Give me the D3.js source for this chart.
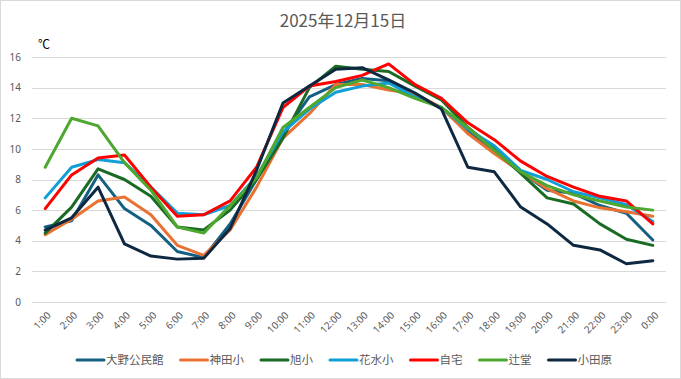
<!DOCTYPE html>
<html>
<head>
<meta charset="utf-8">
<script src="https://cdn.jsdelivr.net/npm/d3@7"></script>
<style>
  body { margin: 0; background: #fff; }
  svg { display: block; font-family: "Noto Sans CJK JP", "Noto Sans", sans-serif; }
</style>
</head>
<body>
<svg id="chart" width="681" height="379"></svg>
<script>
// 時刻
var hours = ["1:00","2:00","3:00","4:00","5:00","6:00","7:00","8:00","9:00","10:00","11:00","12:00",
  "13:00","14:00","15:00","16:00","17:00","18:00","19:00","20:00","21:00","22:00","23:00","0:00"];
var yTicks = [0, 2, 4, 6, 8, 10, 12, 14, 16];

// 各地点の気温 (℃)
var oono   = [4.9,5.3,8.3,6.1,5.0,3.3,2.9,5.1,8.0,11.0,13.4,14.2,14.6,14.45,13.5,12.7,11.1,9.8,8.5,7.3,7.1,6.3,5.8,4.05];
var kanda  = [4.4,5.4,6.6,6.85,5.7,3.7,3.05,4.7,7.5,10.7,12.3,14.2,14.2,13.85,13.6,12.7,11.0,9.7,8.5,7.4,6.6,6.15,5.9,5.6];
var asahi  = [4.5,6.2,8.7,8.0,6.9,4.9,4.7,6.0,8.0,10.7,14.0,15.4,15.2,15.05,14.1,13.2,11.4,10.0,8.4,6.8,6.4,5.1,4.1,3.7];
var hanamizu = [6.8,8.8,9.3,9.1,7.5,5.8,5.7,6.3,8.2,11.1,12.6,13.7,14.1,14.3,13.4,12.7,11.3,10.2,8.6,8.0,7.2,6.8,6.35,5.25];
var jitaku = [6.1,8.3,9.4,9.6,7.5,5.6,5.7,6.6,8.8,12.7,14.1,14.4,14.8,15.55,14.2,13.3,11.7,10.6,9.2,8.2,7.5,6.9,6.6,5.1];
var tsujido = [8.8,12.0,11.5,9.1,7.3,4.9,4.5,6.3,8.1,11.4,12.7,14.0,14.5,14.0,13.3,12.7,11.4,9.9,8.5,7.6,7.0,6.6,6.2,6.0];
var odawara = [4.7,5.5,7.5,3.8,3.0,2.8,2.85,4.8,8.6,13.0,14.1,15.2,15.3,14.5,13.65,12.6,8.8,8.5,6.2,5.1,3.7,3.4,2.5,2.7];

var names = ["大野公民館", "神田小", "旭小", "花水小", "自宅", "辻堂", "小田原"];
var colors = ["#156082", "#E97132", "#196B24", "#0F9ED5", "#FF0000", "#4EA72E", "#0E2841"];

var series = [oono, kanda, asahi, hanamizu, jitaku, tsujido, odawara].map(function (vals, i) {
  return {name: names[i], color: colors[i], values: vals};
});

var svg = d3.select("#chart"),
    width = +svg.attr("width"),
    height = +svg.attr("height");

var plotL = 32, plotR = 666, plotT = 57, plotB = 302;

svg.append("rect")
  .attr("x", 0.5).attr("y", 0.5)
  .attr("width", width - 1).attr("height", height - 1)
  .attr("fill", "#fff").attr("stroke", "#D9D9D9");

var x = d3.scalePoint().domain(hours).range([plotL, plotR]).padding(0.5);
var y = d3.scaleLinear().domain([0, 16]).range([plotB, plotT]);

// title
svg.append("text")
  .attr("x", 343).attr("y", 27)
  .attr("text-anchor", "middle")
  .attr("font-size", 17)
  .attr("fill", "#595959")
  .text("2025年12月15日");

svg.append("text")
  .attr("x", 38).attr("y", 49)
  .attr("font-size", 12)
  .attr("fill", "#000")
  .text("℃");

// grid
svg.append("g").selectAll("line")
  .data(yTicks)
  .enter().append("line")
  .attr("x1", plotL).attr("x2", plotR)
  .attr("y1", function (d) { return Math.round(y(d)) + 0.5; })
  .attr("y2", function (d) { return Math.round(y(d)) + 0.5; })
  .attr("stroke", "#D9D9D9");

// y axis labels
var yAxis = svg.append("g")
  .attr("transform", "translate(" + (plotL - 11) + ",0)")
  .call(d3.axisLeft(y).tickValues(yTicks).tickSize(0).tickPadding(0));
yAxis.select(".domain").remove();
yAxis.selectAll("text").attr("font-size", 10).attr("fill", "#595959")
  .attr("font-family", "'Noto Sans', sans-serif");

// x axis labels
var xAxis = svg.append("g")
  .attr("transform", "translate(0," + (plotB + 6) + ")")
  .call(d3.axisBottom(x).tickSize(0).tickPadding(0));
xAxis.select(".domain").remove();
xAxis.selectAll("text")
  .attr("font-size", 10).attr("fill", "#595959")
  .attr("font-family", "'Noto Sans', sans-serif")
  .attr("text-anchor", "end")
  .attr("dy", "0.7em")
  .attr("transform", "translate(1,3) rotate(-45)");

// lines
var line = d3.line()
  .x(function (d, i) { return x(hours[i]); })
  .y(function (d) { return y(d); });

svg.append("g").selectAll("path")
  .data(series)
  .enter().append("path")
  .attr("d", function (d) { return line(d.values); })
  .attr("fill", "none")
  .attr("stroke", function (d) { return d.color; })
  .attr("stroke-width", 3)
  .attr("stroke-linejoin", "round")
  .attr("stroke-linecap", "round");

// legend
var legend = svg.append("g").attr("transform", "translate(0,360)");
var lx = 76;
series.forEach(function (s) {
  var g = legend.append("g").attr("transform", "translate(" + lx + ",0)");
  g.append("line")
    .attr("x1", 1).attr("x2", 28).attr("y1", 0).attr("y2", 0)
    .attr("stroke", s.color).attr("stroke-width", 3).attr("stroke-linecap", "round");
  var t = g.append("text")
    .attr("x", 30).attr("y", 0).attr("dy", "0.35em")
    .attr("font-size", 11.5).attr("fill", "#595959")
    .text(s.name);
  lx += 30 + t.node().getComputedTextLength() + 16;
});
</script>
</body>
</html>
